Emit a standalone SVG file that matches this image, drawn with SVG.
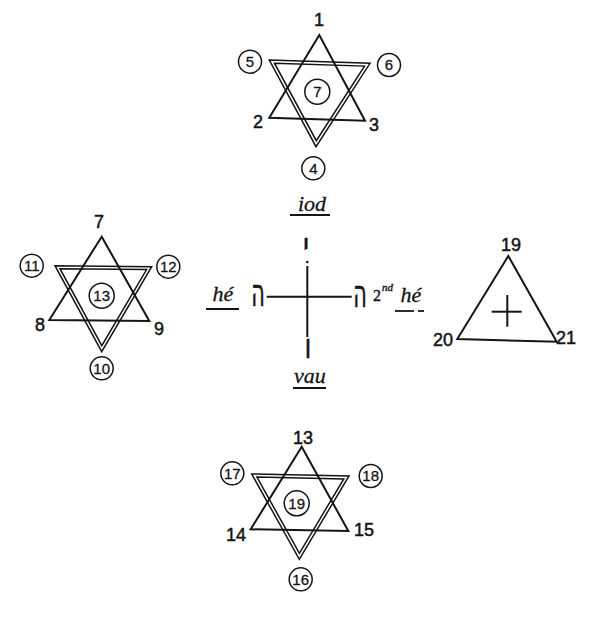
<svg xmlns="http://www.w3.org/2000/svg" width="606" height="620" viewBox="0 0 606 620">
<style>
.ln{fill:none;stroke:#151515;stroke-width:2;stroke-linejoin:miter}
.dl{fill:none;stroke:#151515;stroke-width:1.5;stroke-linejoin:miter}
.cr{fill:none;stroke:#151515;stroke-width:1.5}
.lb{font-family:"Liberation Sans",Arial,sans-serif;font-size:18px;fill:#151515;stroke:#151515;stroke-width:0.5;text-anchor:middle}
.cn{font-family:"Liberation Sans",Arial,sans-serif;font-size:15px;fill:#151515;stroke:#151515;stroke-width:0.3;text-anchor:middle}
.it{font-family:"Liberation Serif","Times New Roman",serif;font-style:italic;font-size:22px;fill:#151515;stroke:#151515;stroke-width:0.3;text-anchor:middle}
.sm{font-family:"Liberation Serif","Times New Roman",serif;fill:#151515;stroke:#151515;stroke-width:0.4;text-anchor:start}
.hb{font-family:"DejaVu Sans","Liberation Sans",sans-serif;fill:#151515;stroke:#151515;stroke-width:0.5;text-anchor:middle}
.ul{stroke:#151515;stroke-width:1.8;fill:none}
</style>
<rect width="606" height="620" fill="#ffffff"/>

<g id="star-top">
<polygon class="ln" points="319.3,35 269.3,117.7 365,120.7"/>
<polygon class="dl" points="269.3,60 370,63.3 316,146.7"/>
<polygon class="dl" points="274.5,63.2 364.5,66.1 316.3,140.7"/>
<text class="lb" x="319" y="26">1</text>
<text class="lb" x="258" y="128">2</text>
<text class="lb" x="374" y="131">3</text>
<circle class="cr" cx="250" cy="61.7" r="11.5"/><text class="cn" x="250" y="67">5</text>
<circle class="cr" cx="389" cy="65" r="11.5"/><text class="cn" x="389" y="70.3">6</text>
<circle class="cr" cx="317.3" cy="91.7" r="12.5"/><text class="cn" x="317.3" y="97">7</text>
<circle class="cr" cx="313.3" cy="168.3" r="11.5"/><text class="cn" x="313.3" y="173.6">4</text>
</g>

<g id="star-left">
<polygon class="ln" points="101.7,236.7 49.3,320 149.3,321"/>
<polygon class="dl" points="55,265.7 151.7,266.7 101.7,351.7"/>
<polygon class="dl" points="60,268.7 146.6,269.6 101.8,345.7"/>
<text class="lb" x="99" y="228">7</text>
<text class="lb" x="40" y="331">8</text>
<text class="lb" x="159" y="335">9</text>
<circle class="cr" cx="31.7" cy="265.7" r="11.5"/><text class="cn" x="31.7" y="271">11</text>
<circle class="cr" cx="168.3" cy="266.7" r="11.5"/><text class="cn" x="168.3" y="272">12</text>
<circle class="cr" cx="101.7" cy="295.7" r="12.5"/><text class="cn" x="101.7" y="301">13</text>
<circle class="cr" cx="101.7" cy="368.3" r="11.5"/><text class="cn" x="101.7" y="373.6">10</text>
</g>

<g id="cross-center">
<line class="ln" x1="307.3" y1="266" x2="307.3" y2="337"/>
<line class="ln" x1="266.7" y1="296.7" x2="351.7" y2="296.7"/>
<circle cx="307.3" cy="262" r="1.3" fill="#151515"/>
<text class="hb" font-size="34" transform="translate(306,257) scale(0.8,1)">י</text>
<text class="hb" font-size="38" transform="translate(258,306) scale(0.55,1)">ה</text>
<text class="hb" font-size="38" transform="translate(360,307) scale(0.55,1)">ה</text>
<text class="hb" font-size="34" transform="translate(308,358) scale(0.75,1)">ו</text>
</g>

<g id="label-iod">
<text class="it" x="312" y="211">iod</text>
<line class="ul" x1="290" y1="215" x2="330" y2="215"/>
</g>
<g id="label-he">
<text class="it" x="223" y="301">hé</text>
<line class="ul" x1="206" y1="309" x2="239" y2="309"/>
</g>
<g id="label-vau">
<text class="it" x="310" y="383">vau</text>
<line class="ul" x1="293" y1="388" x2="326" y2="388"/>
</g>
<g id="label-2nd-he">
<text class="sm" x="373" y="301" style="font-size:16px">2</text>
<text class="sm" x="382" y="291" style="font-size:11px;font-style:italic">nd</text>
<text class="it" x="411" y="302">hé</text>
<line class="ul" x1="395" y1="311" x2="414" y2="311"/>
<line class="ul" x1="418" y1="311" x2="424" y2="311"/>
</g>

<g id="triangle-right">
<polygon class="ln" points="508.3,256 457.3,339 556.7,341.7"/>
<line class="ln" x1="491.7" y1="311.7" x2="521.7" y2="311.7"/>
<line class="ln" x1="507.3" y1="295" x2="507.3" y2="326.7"/>
<text class="lb" x="511" y="251">19</text>
<text class="lb" x="443" y="346">20</text>
<text class="lb" x="566" y="344">21</text>
</g>

<g id="star-bottom">
<polygon class="ln" points="301.7,446.7 250.7,529.3 348.3,531"/>
<polygon class="dl" points="251.7,474 349,476 299.3,559.3"/>
<polygon class="dl" points="256.9,477.1 343.8,478.9 299.4,553.3"/>
<text class="lb" x="303" y="444">13</text>
<text class="lb" x="236" y="541">14</text>
<text class="lb" x="364" y="536">15</text>
<circle class="cr" cx="232.3" cy="473.3" r="11.5"/><text class="cn" x="232.3" y="478.6">17</text>
<circle class="cr" cx="370.7" cy="476" r="11.5"/><text class="cn" x="370.7" y="481.3">18</text>
<circle class="cr" cx="296.7" cy="503.3" r="12.5"/><text class="cn" x="296.7" y="508.6">19</text>
<circle class="cr" cx="300.7" cy="579.3" r="11.5"/><text class="cn" x="300.7" y="584.6">16</text>
</g>
</svg>
